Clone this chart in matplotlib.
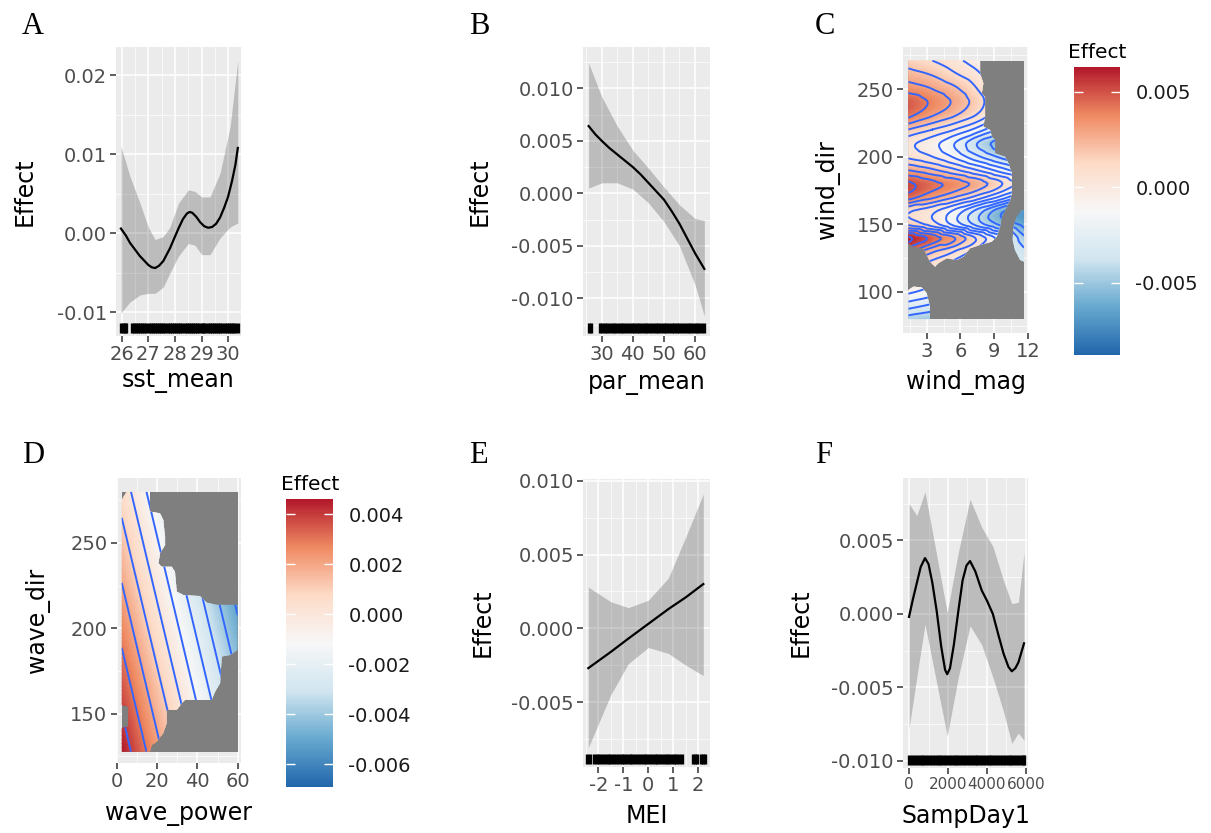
import numpy as np
import matplotlib.pyplot as plt
import matplotlib.tri as mtri
from matplotlib.colors import LinearSegmentedColormap, Normalize
from matplotlib.cm import ScalarMappable
from matplotlib.patches import PathPatch, Rectangle
from matplotlib.path import Path

plt.rcParams['font.family'] = 'DejaVu Sans'
plt.rcParams['axes.unicode_minus'] = False

# ---------------- data ----------------
# A: sst_mean
sst_x   = [25.96, 26.15, 26.30, 26.50, 26.68, 26.85, 26.99, 27.12, 27.25, 27.40, 27.56, 27.70, 27.81, 27.95,
           28.13, 28.30, 28.45, 28.55, 28.65, 28.80, 28.95, 29.10, 29.25, 29.40, 29.55, 29.70, 29.85, 30.00,
           30.15, 30.28, 30.37]
sst_fit = [0.0006, -0.0003, -0.0012, -0.0021, -0.0029, -0.0035, -0.0040, -0.0043, -0.0044, -0.0041, -0.0035,
           -0.0026, -0.0019, -0.0008, 0.0006, 0.0018, 0.0025, 0.0027, 0.0026, 0.0021, 0.0014, 0.0009, 0.0007,
           0.0008, 0.0012, 0.0020, 0.0032, 0.0046, 0.0066, 0.0087, 0.0108]
sst_band_x = [25.96, 26.30, 26.68, 26.99, 27.25, 27.56, 27.81, 28.13, 28.50, 28.75, 29.01, 29.32, 29.70, 30.08, 30.37]
sst_hi  = [0.0110, 0.0072, 0.0038, 0.0008, -0.0008, -0.0004, 0.0008, 0.0038, 0.0055, 0.0053, 0.0046, 0.0046, 0.0076, 0.0135, 0.0219]
sst_lo  = [-0.0101, -0.0087, -0.0078, -0.0076, -0.0076, -0.0068, -0.0050, -0.0029, -0.0013, -0.0015, -0.0027, -0.0027, -0.0006, 0.0008, 0.0013]
sst_rug = [25.96, 26.03, 26.10, 26.17, 26.38, 26.45, 26.53, 26.60, 26.69, 26.77, 26.84, 26.92, 27.01, 27.08, 27.16,
           27.25, 27.31, 27.40, 27.48, 27.55, 27.63, 27.72, 27.80, 27.87, 27.95, 28.04, 28.12, 28.19, 28.27, 28.36,
           28.44, 28.51, 28.60, 28.68, 28.75, 28.83, 28.92, 29.00, 29.07, 29.15, 29.24, 29.32, 29.39, 29.47, 29.56,
           29.64, 29.71, 29.79, 29.88, 29.96, 30.03, 30.11, 30.20, 30.28, 30.37]

# B: par_mean
par_x   = [25.8, 28, 30, 32.5, 35, 37.5, 40, 42.5, 45, 47.5, 50, 52.5, 55, 57.5, 60, 63.0]
par_fit = [0.0064, 0.0056, 0.0050, 0.0043, 0.0037, 0.0031, 0.0025, 0.0018, 0.0010, 0.0002, -0.0006, -0.0017,
           -0.0029, -0.0043, -0.0057, -0.0072]
par_band_x = [25.8, 30, 35, 40, 45, 50, 55, 60, 63.0]
par_hi  = [0.0124, 0.0092, 0.0064, 0.0041, 0.0024, 0.0006, -0.0011, -0.0024, -0.0026]
par_lo  = [0.0005, 0.0010, 0.0010, 0.0004, -0.0009, -0.0027, -0.0050, -0.0087, -0.0117]
par_rug = [25.8, 26.5, 29.3, 30.1, 31.0, 31.8, 32.7, 33.5, 34.4, 35.3, 36.1, 37.0, 37.8, 38.7, 39.6, 40.4, 41.3,
           42.1, 43.0, 43.9, 44.7, 45.6, 46.4, 47.3, 48.2, 49.0, 49.9, 50.7, 51.6, 52.5, 53.3, 54.2, 55.0, 55.9,
           56.8, 57.6, 58.5, 59.3, 60.2, 61.1, 61.9, 62.8]

# C: wind_mag x wind_dir smooth (effect on a coarse grid)
wind_mag = [1.36, 3.5, 5.5, 7.5, 9.5, 11.66]
wind_dir = [80, 90, 100, 110, 120, 130, 140, 150, 160, 170, 180, 190, 200, 210, 220, 230, 240, 250, 260, 271]
wind_eff = [
    [-0.0045, -0.0050, -0.0055, -0.0060, -0.0065, -0.0075],
    [-0.0025, -0.0032, -0.0040, -0.0045, -0.0055, -0.0065],
    [-0.0008, -0.0015, -0.0025, -0.0035, -0.0045, -0.0055],
    [0.0000, -0.0005, -0.0015, -0.0025, -0.0035, -0.0045],
    [0.0015, 0.0005, -0.0005, -0.0015, -0.0028, -0.0035],
    [0.0042, 0.0022, 0.0010, -0.0005, -0.0022, -0.0038],
    [0.0062, 0.0046, 0.0030, 0.0008, -0.0015, -0.0048],
    [0.0018, 0.0005, -0.0014, -0.0034, -0.0052, -0.0064],
    [0.0012, 0.0003, -0.0012, -0.0033, -0.0056, -0.0068],
    [0.0045, 0.0032, 0.0020, 0.0006, -0.0012, -0.0035],
    [0.0052, 0.0043, 0.0036, 0.0026, 0.0012, -0.0008],
    [0.0030, 0.0022, 0.0012, 0.0000, -0.0014, -0.0030],
    [0.0008, 0.0000, -0.0012, -0.0028, -0.0042, -0.0055],
    [0.0003, -0.0006, -0.0020, -0.0040, -0.0056, -0.0068],
    [0.0020, 0.0010, 0.0000, -0.0014, -0.0032, -0.0050],
    [0.0042, 0.0030, 0.0020, 0.0008, -0.0010, -0.0030],
    [0.0048, 0.0038, 0.0028, 0.0015, -0.0002, -0.0020],
    [0.0036, 0.0030, 0.0022, 0.0010, -0.0006, -0.0024],
    [0.0025, 0.0020, 0.0012, 0.0003, -0.0012, -0.0030],
    [0.0015, 0.0010, 0.0003, -0.0006, -0.0020, -0.0036],
]
# areas of wind space that hold data (outside them the smooth is NA -> grey)
wind_cover = [
    [(1.36, 271.4), (7.75, 271.4), (7.75, 261.6), (8.04, 254.2), (7.90, 246.8), (8.19, 244.3), (8.19, 229.5),
     (8.04, 222.1), (8.64, 219.7), (8.79, 214.7), (9.08, 212.3), (9.08, 202.4), (9.53, 201.2), (9.97, 199.9),
     (10.27, 195.0), (10.57, 187.6), (10.57, 172.9), (10.42, 167.9), (10.12, 162.9), (9.68, 155.5), (9.53, 148.1),
     (9.23, 140.8), (8.79, 137.1), (7.75, 134.6), (6.86, 132.2), (6.26, 126.0), (5.67, 123.5), (4.78, 124.8),
     (4.03, 121.1), (3.74, 118.6), (3.29, 122.3), (2.70, 132.2), (1.81, 133.4), (1.36, 135.8)],
    [(11.66, 160.5), (11.46, 160.5), (11.01, 155.5), (10.71, 148.1), (10.65, 138.3), (10.86, 130.9),
     (11.31, 123.5), (11.66, 122.3)],
    [(1.36, 79.6), (3.29, 79.6), (3.29, 89.0), (3.0, 98.9), (2.55, 103.3), (1.81, 103.8), (1.36, 101.3)],
]
wind_lim = [-0.0088, 0.0063]

# D: wave_power x wave_dir smooth (planar, corner values)
wave_power = [2.5, 60.0]
wave_dir = [127.5, 280.0]
wave_eff = [[0.0046, -0.0029],
            [0.0006, -0.0069]]
wave_cover = [
    [(4.95, 280.1), (16.5, 280.1), (16.5, 268.4), (21.5, 267.4), (23.1, 263.5), (24.0, 253.7), (24.0, 248.8),
     (21.5, 244.0), (20.7, 238.1), (22.3, 236.1), (27.3, 236.1), (28.9, 233.2), (29.8, 221.5), (33.1, 219.5),
     (41.3, 218.9), (44.7, 215.0), (49.6, 213.7), (59.9, 213.7), (59.9, 187.3), (56.2, 184.3), (52.1, 183.4),
     (51.3, 167.8), (48.8, 162.8), (47.1, 158.0), (33.9, 158.0), (32.3, 156.0), (29.8, 152.1), (24.8, 152.1),
     (24.8, 144.3), (23.1, 138.5), (19.9, 133.5), (17.4, 131.6), (16.5, 127.7), (2.47, 127.7), (2.47, 141.4),
     (5.8, 142.4), (5.8, 154.0), (2.47, 155.0), (2.47, 275.2)],
]
wave_lim = [-0.0069, 0.0046]

# E: MEI
mei_x   = [-2.4, -1.5, -0.8, 0.0, 0.8, 1.5, 2.2]
mei_fit = [-0.0027, -0.0016, -0.0007, 0.0003, 0.0013, 0.0021, 0.0030]
mei_hi  = [0.0028, 0.0018, 0.0014, 0.0019, 0.0034, 0.0062, 0.0091]
mei_lo  = [-0.0081, -0.0045, -0.0024, -0.0013, -0.0017, -0.0025, -0.0032]
mei_rug = [-2.46, -2.33, -2.17, -2.06, -1.96, -1.84, -1.74, -1.62, -1.52, -1.40, -1.29, -1.19, -1.07, -0.97,
           -0.85, -0.74, -0.64, -0.52, -0.41, -0.31, -0.19, -0.08, 0.03, 0.13, 0.25, 0.36, 0.46, 0.58, 0.69,
           0.79, 0.91, 1.02, 1.12, 1.24, 1.34, 1.78, 1.86, 1.94, 2.10, 2.18, 2.26]

# F: SampDay1
day_x   = [0, 200, 400, 600, 820, 1000, 1200, 1420, 1650, 1850, 1960, 2100, 2300, 2530, 2750, 2950, 3130,
           3400, 3730, 4000, 4300, 4600, 4850, 5100, 5270, 5450, 5610, 5900]
day_fit = [-0.0002, 0.0010, 0.0021, 0.0032, 0.0038, 0.0034, 0.0021, 0.0002, -0.0022, -0.0038, -0.0041,
           -0.0037, -0.0021, 0.0002, 0.0023, 0.0033, 0.0036, 0.0029, 0.0016, 0.0009, 0.0000, -0.0015, -0.0027,
           -0.0036, -0.0039, -0.0037, -0.0033, -0.0020]
day_band_x = [0, 400, 820, 1420, 1960, 2530, 3130, 3730, 4300, 4840, 5270, 5610, 5900]
day_hi  = [0.0075, 0.0067, 0.0083, 0.0040, 0.0001, 0.0042, 0.0078, 0.0059, 0.0046, 0.0023, 0.0007, 0.0008, 0.0042]
day_lo  = [-0.0078, -0.0043, -0.0007, -0.0047, -0.0083, -0.0043, -0.0008, -0.0021, -0.0043, -0.0066, -0.0088, -0.0081, -0.0086]
day_rug = [10, 140, 300, 450, 590, 740, 880, 1030, 1170, 1320, 1470, 1610, 1760, 1900, 2050, 2190, 2340, 2480,
           2630, 2780, 2920, 3070, 3210, 3360, 3500, 3650, 3800, 3940, 4090, 4230, 4380, 4520, 4670, 4820,
           4960, 5110, 5250, 5400, 5540, 5690, 5830, 5900]

# ---------------- helpers ----------------
W, H = 1211, 833
fig = plt.figure(figsize=(W / 100, H / 100), dpi=100)

rdbu = LinearSegmentedColormap.from_list(
    'rdbu7', ['#2166AC', '#67A9CF', '#D1E5F0', '#F7F7F7', '#FDDBC7', '#EF8A62', '#B2182B'])
LINE_BLUE = '#3366FF'


def add_ax(box):
    x0, y0, x1, y1 = box
    return fig.add_axes([x0 / W, 1 - y1 / H, (x1 - x0) / W, (y1 - y0) / H])


def halves(t, lim):
    step = t[1] - t[0]
    m = np.arange(t[0] - step / 2, t[-1] + step, step)
    return m[(m > lim[0]) & (m < lim[1])]


def gg(ax, box, xlim, ylim, xt, xtl, yt, ytl, xtitle, ytitle, xtitle_top, ytitle_right, xsize=14):
    ax.set_facecolor('#EBEBEB')
    for s in ax.spines.values():
        s.set_visible(False)
    ax.set_xlim(xlim)
    ax.set_ylim(ylim)
    ax.set_xticks(xt, xtl)
    ax.set_yticks(yt, ytl)
    ax.set_xticks(halves(xt, xlim), minor=True)
    ax.set_yticks(halves(yt, ylim), minor=True)
    ax.grid(which='major', color='white', lw=1.1)
    ax.grid(which='minor', color='white', lw=0.5)
    ax.set_axisbelow(True)
    ax.tick_params(which='major', length=4.5, width=1.1, color='#333333',
                   labelcolor='#4D4D4D', labelsize=14, pad=2)
    ax.tick_params(axis='x', which='major', labelsize=xsize)
    ax.tick_params(which='minor', length=0)
    x0, y0, x1, y1 = box
    ax.set_xlabel(xtitle, fontsize=17)
    ax.set_ylabel(ytitle, fontsize=17)
    ax.xaxis.set_label_coords(0.5, (y1 - xtitle_top) / (y1 - y0))
    ax.yaxis.set_label_coords((ytitle_right - x0) / (x1 - x0), 0.5)


def smooth_panel(ax, x, fit, bx, lo, hi, rug):
    ax.fill_between(bx, lo, hi, color='black', alpha=0.2, linewidth=0, zorder=2)
    ax.plot(x, fit, color='black', lw=1.6, zorder=3, solid_joinstyle='round')
    ax.vlines(rug, 0.01, 0.046, transform=ax.get_xaxis_transform(),
              colors='black', linewidth=2.4, zorder=4)


def grid_tri(xs, ys):
    X, Y = np.meshgrid(xs, ys)
    ny, nx = X.shape
    idx = np.arange(ny * nx).reshape(ny, nx)
    a, b = idx[:-1, :-1].ravel(), idx[:-1, 1:].ravel()
    c, d = idx[1:, 1:].ravel(), idx[1:, :-1].ravel()
    return mtri.Triangulation(X.ravel(), Y.ravel(), np.concatenate([np.c_[a, b, c], np.c_[a, c, d]]))


def cover_patch(ax, polys):
    verts, codes = [], []
    for p in polys:
        verts += list(p) + [p[0]]
        codes += [Path.MOVETO] + [Path.LINETO] * (len(p) - 1) + [Path.CLOSEPOLY]
    return PathPatch(Path(verts, codes), transform=ax.transData, facecolor='none', edgecolor='none')


def surface(ax, xs, ys, vals, lim, levels, cover, cubic, subdiv):
    tri = grid_tri(xs, ys)
    z = np.asarray(vals, dtype=float).ravel()
    if cubic:
        interp = mtri.CubicTriInterpolator(tri, z, kind='geom')
    else:
        interp = mtri.LinearTriInterpolator(tri, z)
    tri_f, z_f = mtri.UniformTriRefiner(tri).refine_field(z, triinterpolator=interp, subdiv=subdiv)
    # grey = NA area of the raster
    ax.add_patch(Rectangle((min(xs), min(ys)), max(xs) - min(xs), max(ys) - min(ys),
                           facecolor='#7F7F7F', edgecolor='none', zorder=1))
    clip = cover_patch(ax, cover)
    mesh = ax.tripcolor(tri_f, z_f, shading='gouraud', cmap=rdbu, norm=Normalize(*lim), zorder=2)
    cs = ax.tricontour(tri_f, z_f, levels=levels, colors=LINE_BLUE,
                       linewidths=1.4, linestyles='solid', zorder=3)
    mesh.set_clip_path(clip)
    cs.set_clip_path(clip)


def colorbar(box, lim, ticks, labels, title_xy):
    cax = add_ax(box)
    cb = fig.colorbar(ScalarMappable(Normalize(*lim), rdbu), cax=cax)
    cb.outline.set_visible(False)
    cb.set_ticks(ticks, labels=labels)
    cax.tick_params(length=0, labelsize=14, labelcolor='#1A1A1A', pad=11)
    cax.hlines(ticks, 0, 0.2, transform=cax.get_yaxis_transform(), colors='white', lw=1)
    cax.hlines(ticks, 0.8, 1, transform=cax.get_yaxis_transform(), colors='white', lw=1)
    fig.text(title_xy[0] / W, 1 - title_xy[1] / H, 'Effect', fontsize=14.5, ha='left', va='center')


# ---------------- A ----------------
boxA = (116, 47, 241, 336)
ax = add_ax(boxA)
smooth_panel(ax, sst_x, sst_fit, sst_band_x, sst_lo, sst_hi, sst_rug)
gg(ax, boxA, (25.774, 30.49), (-0.0130, 0.02358), [26, 27, 28, 29, 30], ['26', '27', '28', '29', '30'],
   [-0.01, 0.0, 0.01, 0.02], ['-0.01', '0.00', '0.01', '0.02'], 'sst_mean', 'Effect', 369, 37)

# ---------------- B ----------------
boxB = (583, 47, 710, 336)
ax = add_ax(boxB)
smooth_panel(ax, par_x, par_fit, par_band_x, par_lo, par_hi, par_rug)
gg(ax, boxB, (23.99, 64.82), (-0.01359, 0.01393), [30, 40, 50, 60], ['30', '40', '50', '60'],
   [-0.01, -0.005, 0.0, 0.005, 0.01], ['-0.010', '-0.005', '0.000', '0.005', '0.010'],
   'par_mean', 'Effect', 371, 492)

# ---------------- C ----------------
boxC = (903, 47, 1028, 333)
ax = add_ax(boxC)
surface(ax, wind_mag, wind_dir, wind_eff, wind_lim, np.arange(-0.008, 0.0065, 0.001),
        wind_cover, cubic=True, subdiv=3)
gg(ax, boxC, (0.89, 12.01), (69.5, 281.1), [3, 6, 9, 12], ['3', '6', '9', '12'],
   [100, 150, 200, 250], ['100', '150', '200', '250'], 'wind_mag', 'wind_dir', 370, 840)
colorbar((1074, 67, 1120, 355), wind_lim, [-0.005, 0.0, 0.005], ['-0.005', '0.000', '0.005'], (1068, 53))

# ---------------- D ----------------
boxD = (116.5, 478, 241.5, 763)
ax = add_ax(boxD)
surface(ax, wave_power, wave_dir, wave_eff, wave_lim, np.arange(-0.006, 0.0045, 0.001),
        wave_cover, cubic=False, subdiv=6)
gg(ax, boxD, (-0.1, 61.9), (121.0, 288.1), [0, 20, 40, 60], ['0', '20', '40', '60'],
   [150, 200, 250], ['150', '200', '250'], 'wave_power', 'wave_dir', 802, 50)
colorbar((286, 499, 333, 787), wave_lim, [-0.006, -0.004, -0.002, 0.0, 0.002, 0.004],
         ['-0.006', '-0.004', '-0.002', '0.000', '0.002', '0.004'], (281, 484))

# ---------------- E ----------------
boxE = (583, 479, 710, 767)
ax = add_ax(boxE)
smooth_panel(ax, mei_x, mei_fit, mei_x, mei_lo, mei_hi, mei_rug)
gg(ax, boxE, (-2.612, 2.468), (-0.0094, 0.01012), [-2, -1, 0, 1, 2], ['-2', '-1', '0', '1', '2'],
   [-0.005, 0.0, 0.005, 0.01], ['-0.005', '0.000', '0.005', '0.010'], 'MEI', 'Effect', 804, 495)

# ---------------- F ----------------
boxF = (903, 478, 1028, 768)
ax = add_ax(boxF)
smooth_panel(ax, day_x, day_fit, day_band_x, day_lo, day_hi, day_rug)
gg(ax, boxF, (-308, 6103), (-0.01048, 0.00925), [0, 2000, 4000, 6000], ['0', '2000', '4000', '6000'],
   [-0.01, -0.005, 0.0, 0.005], ['-0.010', '-0.005', '0.000', '0.005'], 'SampDay1', 'Effect', 804, 813,
   xsize=11)

# panel letters
for lab, x, y in [('A', 22, 34), ('B', 469, 34), ('C', 815, 34), ('D', 22, 463), ('E', 469, 463), ('F', 815, 463)]:
    fig.text(x / W, 1 - y / H, lab, fontsize=22, family='Liberation Serif', ha='left', va='baseline')

fig.savefig('out.png', dpi=100, facecolor='white')
